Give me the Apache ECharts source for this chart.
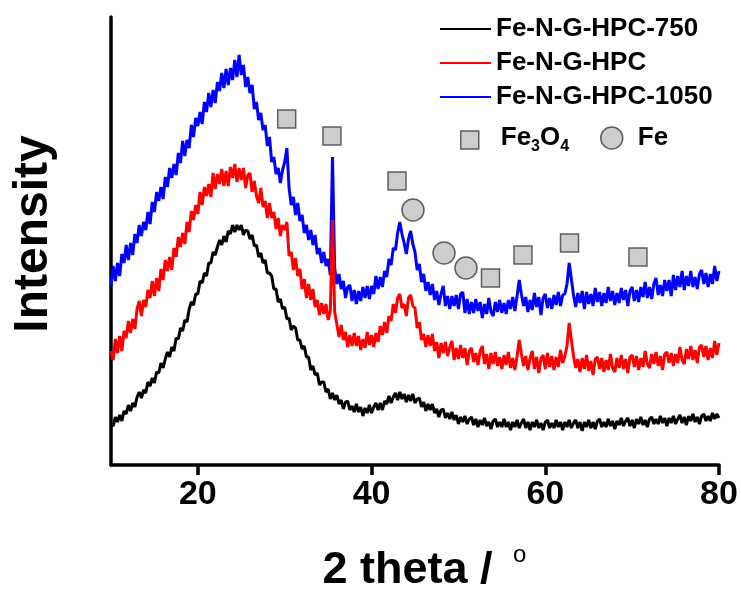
<!DOCTYPE html>
<html>
<head>
<meta charset="utf-8">
<script src="https://cdn.jsdelivr.net/npm/echarts@6/dist/echarts.min.js"></script>
<style>
  html, body { margin: 0; padding: 0; background: #ffffff; }
  #chart { width: 741px; height: 591px; }
</style>
</head>
<body>
<div id="chart"></div>
<script>
// XRD patterns, sampled every 0.25 degree from 10 to 80 (2 theta), intensity in a.u.
const THETA_START = 10;
const THETA_STEP = 0.25;

const intensity750 = [
  37,36,45,40, 47,41,51,48, 57,51,59,55, 65,70,64,72, 69,80,76,84,
  79,90,89,99, 94,103,110,105, 115,111,124,123, 134,131,142,140, 153,160,157,168,
  168,181,179,189, 186,199,199,210, 207,215,222,217, 226,220,231,228, 237,230,237,232,
  237,227,232,231, 223,227,216,217, 205,209,199,202, 189,189,186,173, 173,160,163,153,
  155,143,144,132, 136,134,122,122, 113,116,105,105, 92,96,87,89, 77,80,80,70,
  73,63,69,62, 67,58,62,53, 60,61,52,56, 50,58,50,55, 46,54,49,57,
  49,55,59,52, 59,52,61,58, 66,59,65,69, 62,70,63,68, 60,67,61,68,
  59,63,64,55, 60,51,58,52, 58,49,53,45, 52,53,44,49, 43,50,42,47,
  38,45,40,46, 38,43,45,37, 43,35,42,37, 44,36,40,33, 41,43,35,40,
  35,43,35,40, 32,40,35,42, 34,39,43,34, 40,32,40,35, 42,34,39,32,
  40,42,34,39, 34,42,35,40, 32,40,35,42, 34,39,42,34, 40,31,40,35,
  42,34,40,33, 41,43,35,40, 35,43,36,41, 33,41,37,44, 36,41,44,36,
  42,34,43,38, 45,37,42,35, 43,45,38,43, 38,46,39,44, 36,44,39,46,
  38,43,47,39, 45,37,46,41, 48,40,45,38, 46,48,41,46, 41,49,43,48,
  44
];

const intensityHPC = [
  111,102,123,109, 126,111,131,124, 141,129,143,133, 153,161,146,162, 155,172,164,181,
  166,184,171,193, 182,202,191,205, 192,214,205,225, 215,229,218,240, 230,251,242,257,
  248,270,257,275, 266,278,265,289, 273,288,278,293, 276,291,276,295, 284,298,280,294,
  282,294,274,287, 289,270,281,266, 259,274,255,261, 244,259,244,250, 233,244,226,237,
  232,240,206,210, 192,204,186,193, 173,183,164,178, 162,173,155,162, 147,159,148,158,
  142,151,242,150, 138,125,137,122, 130,115,127,116, 129,116,126,112, 123,114,130,117,
  127,115,129,120, 136,127,140,129, 146,141,158,149, 164,168,154,158, 146,164,167,156,
  154,134,140,122, 128,115,127,116, 128,111,120,104, 119,109,120,106, 115,121,102,114,
  103,117,104,114, 97,111,114,100, 109,97,111,116, 98,108,93,109, 98,110,96,105,
  93,107,97,110, 94,104,92,106, 122,108,96,106, 92,104,111,93, 105,89,103,107,
  93,109,95,106, 92,105,95,112, 99,106,116,139, 122,106,94,103, 90,104,93,107,
  91,101,87,103, 105,93,104,90, 102,92,108,94, 90,104,94,107, 93,103,89,105,
  107,95,106,92, 104,95,111,98, 94,108,98,110, 96,106,92,108, 110,99,109,96,
  108,99,115,102, 98,113,103,116, 102,112,99,115, 117,105,116,102, 114,104,121,107,
  119
];

const intensity1050 = [
  176,196,181,199, 186,208,199,217, 202,219,207,228, 219,237,226,240, 232,250,238,260,
  250,270,261,275, 263,285,275,294, 284,298,287,309, 299,321,306,322, 314,337,325,344,
  336,350,338,360, 350,369,355,372, 359,380,371,389, 374,393,377,394, 382,402,385,407,
  387,397,375,385, 369,377,353,360, 342,349,332,337, 316,325,300,305, 288,294,279,292,
  300,314,274,257, 265,247,259,241, 247,229,237,222, 232,217,227,208, 214,199,210,196,
  203,187,305,194, 178,188,173,181, 164,175,177,161, 172,158,171,161, 175,164,176,163,
  176,168,186,173, 185,175,191,185, 203,197,214,212, 229,240,228,219, 208,223,231,218,
  210,192,198,180, 188,171,180,167, 178,162,171,157, 168,176,156,166, 153,166,156,167,
  153,168,170,149, 163,148,160,149, 163,151,160,144, 158,148,164,150, 146,160,150,162,
  149,159,148,162, 153,165,151,166, 182,168,156,165, 150,162,152,169, 155,165,147,164,
  168,154,164,153, 167,157,170,156, 167,168,178,199, 183,167,155,169, 159,171,153,170,
  158,168,156,174, 160,170,156,169, 159,175,161,171, 157,169,159,174, 162,172,156,171,
  175,161,172,160, 175,165,180,164, 175,163,178,184, 167,177,166,182, 171,182,166,187,
  172,186,175,191, 172,186,176,191, 175,185,173,188, 192,178,189,175, 188,178,196,181,
  191
];

// Phase markers: [2 theta, height]
const fe3o4Marks = [[30.23, 343], [35.44, 326], [42.93, 281], [53.69, 184], [57.43, 207], [62.79, 219], [70.67, 205]];
const feMarks = [[44.77, 252], [48.34, 209], [50.87, 194]];

const xTickValues = [20, 40, 60, 80];
const seriesNames = ['Fe-N-G-HPC-750', 'Fe-N-G-HPC', 'Fe-N-G-HPC-1050'];

const FONT = "'Liberation Sans', Arial, Helvetica, sans-serif";

function toPairs(values) {
  return values.map((v, i) => [THETA_START + i * THETA_STEP, v]);
}

function lineSeries(name, values, color, z) {
  return {
    name: name,
    type: 'line',
    data: toPairs(values),
    symbol: 'none',
    showSymbol: false,
    silent: true,
    z: z,
    lineStyle: { color: color, width: 3 },
    itemStyle: { color: color }
  };
}

const markerStyle = { color: '#c0c0c0', borderColor: '#3c3c3c', borderWidth: 1.5 };
const txt = { fontFamily: FONT, fontWeight: 'bold', color: '#000000' };

const chart = echarts.init(document.getElementById('chart'), null, { renderer: 'canvas' });

chart.setOption({
  animation: false,
  backgroundColor: '#ffffff',
  grid: { left: 111, right: 22, top: 17, bottom: 126, containLabel: false, outerBoundsMode: 'none' },
  xAxis: {
    type: 'value',
    min: 10,
    max: 80,
    axisLine: { onZero: false, lineStyle: { color: '#000000', width: 3.5 } },
    axisTick: { customValues: xTickValues, length: 10, lineStyle: { color: '#000000', width: 3.5 } },
    axisLabel: Object.assign({ customValues: xTickValues, margin: 13, fontSize: 34 }, txt),
    splitLine: { show: false },
    name: '{a|2 theta / }{s|o}',
    nameLocation: 'middle',
    nameGap: 74,
    nameTextStyle: {
      rich: {
        a: Object.assign({ fontSize: 45, lineHeight: 64, padding: [0, 0, 0, 19] }, txt),
        s: { fontFamily: FONT, fontSize: 24, color: '#000000', verticalAlign: 'top', padding: [4, 0, 0, 8] }
      }
    }
  },
  yAxis: {
    type: 'value',
    min: -3,
    max: 445,
    axisLine: { show: true, lineStyle: { color: '#000000', width: 3.5 } },
    axisTick: { show: false },
    axisLabel: { show: false },
    splitLine: { show: false },
    name: 'Intensity',
    nameLocation: 'middle',
    nameGap: 53,
    nameTextStyle: Object.assign({ fontSize: 48, padding: [0, 0, 0, 14] }, txt)
  },
  legend: [
    {
      data: seriesNames,
      orient: 'vertical',
      left: 440,
      top: 14,
      padding: 0,
      icon: 'rect',
      itemWidth: 51,
      itemHeight: 2,
      itemGap: 4,
      selectedMode: false,
      textStyle: Object.assign({ fontSize: 26, lineHeight: 30 }, txt)
    },
    {
      data: [{ name: 'Fe3O4', icon: 'rect' }],
      left: 460,
      top: 125,
      padding: 0,
      itemWidth: 18,
      itemHeight: 18,
      selectedMode: false,
      itemStyle: { borderWidth: 1.5 },
      formatter: '{p|Fe}{s|3}{a|O}{s|4}',
      textStyle: Object.assign({
        fontSize: 26,
        lineHeight: 30,
        rich: {
          p: Object.assign({ fontSize: 26, lineHeight: 30, verticalAlign: 'top', padding: [0, 0, 0, 17] }, txt),
          a: Object.assign({ fontSize: 26, lineHeight: 30, verticalAlign: 'top' }, txt),
          s: Object.assign({ fontSize: 16, verticalAlign: 'bottom' }, txt)
        }
      }, txt)
    },
    {
      data: [{ name: 'Fe', icon: 'circle' }],
      left: 600,
      top: 123,
      padding: 0,
      itemWidth: 22,
      itemHeight: 22,
      selectedMode: false,
      itemStyle: { borderWidth: 1.5 },
      formatter: '{p|Fe}',
      textStyle: Object.assign({
        fontSize: 26,
        lineHeight: 30,
        rich: {
          p: Object.assign({ fontSize: 26, lineHeight: 30, padding: [0, 0, 0, 10] }, txt)
        }
      }, txt)
    }
  ],
  series: [
    lineSeries(seriesNames[2], intensity1050, '#0000ff', 2),
    lineSeries(seriesNames[1], intensityHPC, '#ff0000', 3),
    lineSeries(seriesNames[0], intensity750, '#000000', 4),
    {
      name: 'Fe3O4',
      type: 'scatter',
      data: fe3o4Marks,
      symbol: 'rect',
      symbolSize: 18,
      silent: true,
      z: 6,
      itemStyle: markerStyle
    },
    {
      name: 'Fe',
      type: 'scatter',
      data: feMarks,
      symbol: 'circle',
      symbolSize: 22,
      silent: true,
      z: 6,
      itemStyle: markerStyle
    }
  ]
});
</script>
</body>
</html>
